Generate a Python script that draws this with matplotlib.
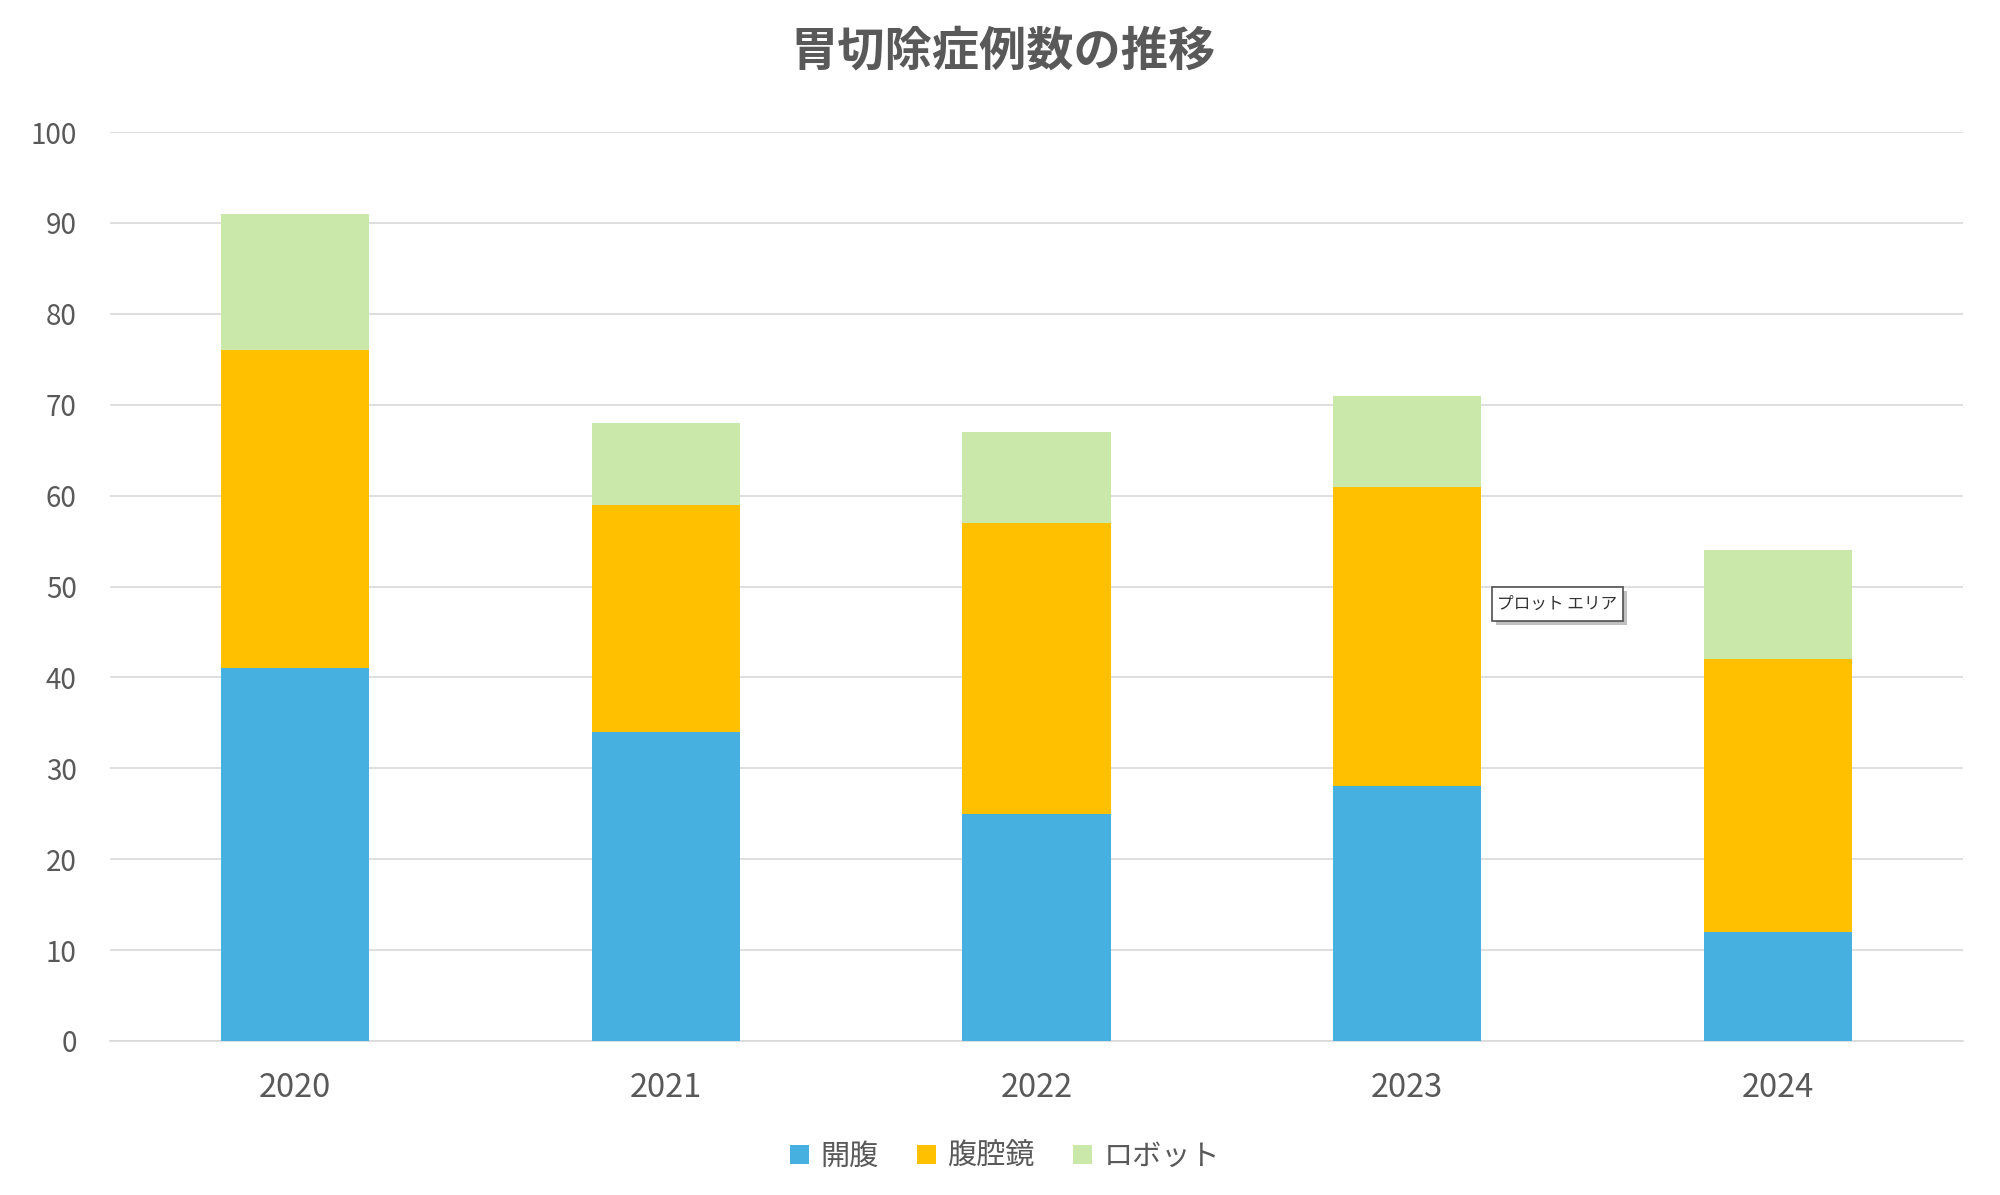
import numpy as np
import matplotlib
matplotlib.use('Agg')
import matplotlib.pyplot as plt
from matplotlib.patches import Patch, Rectangle

plt.rcParams['font.family'] = ['Noto Sans CJK JP', 'DejaVu Sans']

years = ['2020', '2021', '2022', '2023', '2024']
kaifuku = [41, 34, 25, 28, 12]      # 開腹
fukukukyo = [35, 25, 32, 33, 30]    # 腹腔鏡
robot = [15, 9, 10, 10, 12]         # ロボット
series_names = ['開腹', '腹腔鏡', 'ロボット']
colors = ['#46B1E1', '#FFC000', '#CBE8AB']
text_color = '#595959'
grid_color = '#D9D9D9'

fig = plt.figure(figsize=(20, 11.95), dpi=100)
ax = fig.add_axes([0.055, 0.1289, 0.9265, 0.7606])

x = np.arange(len(years))
width = 0.40
bottom = np.zeros(len(years))
for vals, c in zip([kaifuku, fukukukyo, robot], colors):
    ax.bar(x, vals, width, bottom=bottom, color=c, zorder=3, linewidth=0)
    bottom = bottom + np.array(vals)

ax.set_xlim(-0.5, len(years) - 0.5)
ax.set_ylim(0, 100)
ax.set_yticks(np.arange(0, 101, 10))
ax.set_xticks(x)
ax.set_xticklabels(years)

ax.grid(axis='y', color=grid_color, linewidth=1.2, zorder=0)
for s in ['top', 'right', 'left']:
    ax.spines[s].set_visible(False)
ax.spines['bottom'].set_color(grid_color)
ax.spines['bottom'].set_linewidth(1.2)

ax.tick_params(axis='y', length=0, pad=24, labelsize=20, labelcolor=text_color)
ax.tick_params(axis='x', length=0, pad=22, labelsize=23.5, labelcolor=text_color)

fig.text(0.5015, 1 - 51 / 1195, '胃切除症例数の推移', ha='center', va='center',
         fontsize=34, fontweight='bold', color=text_color)

handles = [Patch(facecolor=c, edgecolor='none') for c in colors]
fig.legend(handles, series_names, loc='center', bbox_to_anchor=(0.5025, 1 - 1157 / 1195),
           ncol=3, frameon=False, fontsize=21, labelcolor=text_color,
           handlelength=0.65, handleheight=0.65, handletextpad=0.4, columnspacing=1.3)

# tooltip left over from the screenshot
bx, by, bw, bh = 1492 / 2000, 1 - 621 / 1195, 131 / 2000, 34 / 1195
fig.patches.append(Rectangle((bx + 4 / 2000, by - 4 / 1195), bw, bh, transform=fig.transFigure,
                             facecolor='#A6A6A6', edgecolor='none', alpha=0.7, zorder=10))
fig.patches.append(Rectangle((bx, by), bw, bh, transform=fig.transFigure,
                             facecolor='white', edgecolor='#505050', linewidth=1.2, zorder=11))
fig.text(bx + bw / 2, by + bh / 2, 'プロット エリア', ha='center', va='center',
         fontsize=12, color='#333333', zorder=12)

fig.savefig('out.png', dpi=100, facecolor='white')
